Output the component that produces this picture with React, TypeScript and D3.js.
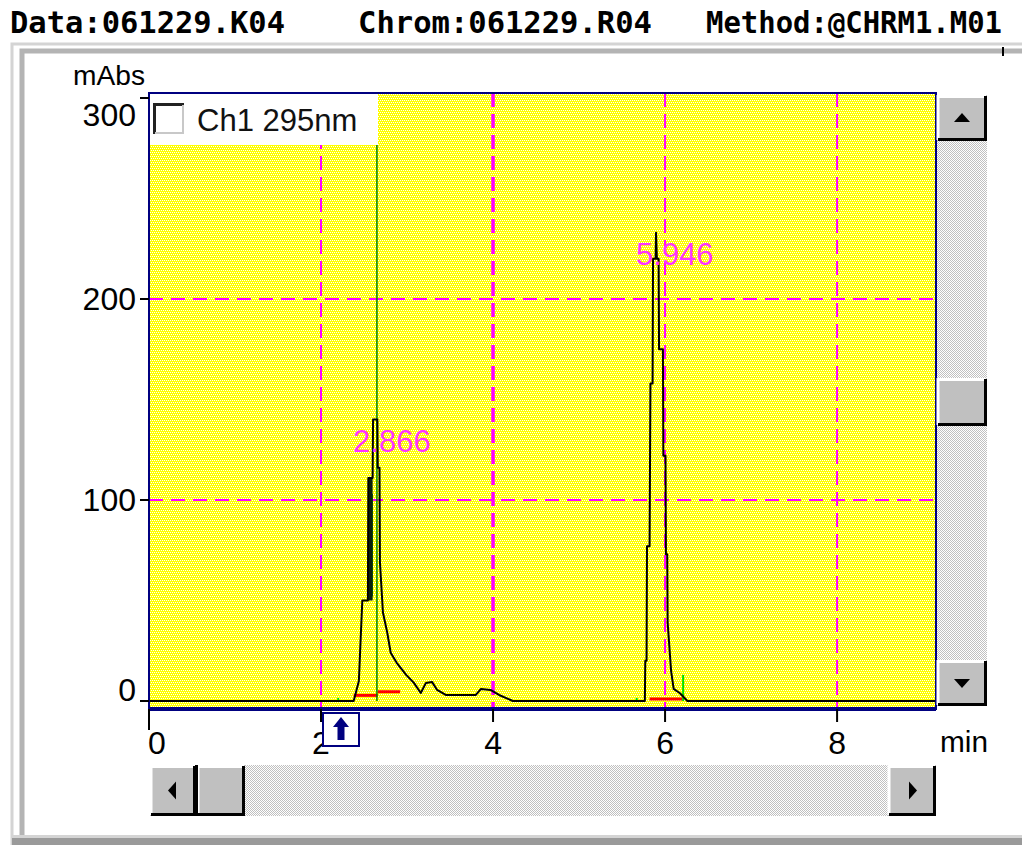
import React from 'react';
import * as d3 from 'd3';

// chromatogram trace, Ch1 295nm (min, mAbs) - repeated times are the detector's vertical steps
const traceTimes = [0, 2.38, 2.44, 2.48, 2.545, 2.55, 2.6, 2.605, 2.655, 2.66, 2.68, 2.685, 2.72, 2.77, 2.81, 2.88, 2.99, 3.08, 3.16, 3.22, 3.29, 3.35, 3.45, 3.8, 3.86, 3.97, 4.07, 4.23, 5.765, 5.77, 5.785, 5.79, 5.82, 5.83, 5.855, 5.86, 5.89, 5.895, 5.905, 5.925, 5.93, 5.975, 5.98, 6.005, 6.01, 6.025, 6.03, 6.07, 6.1, 6.17, 6.26, 9.15];
const traceValues = [0, 0, 10, 50, 50, 111, 111, 140, 140, 116, 116, 69, 44, 34, 24, 19, 13, 9, 4, 9, 9.5, 5.5, 3, 3, 6, 5.5, 3, 0, 0, 20, 20, 77, 77, 158, 158, 220, 220, 233, 220, 220, 175, 175, 122, 122, 73, 73, 39, 15, 6, 4, 0, 0];

// overdrawn dense band on the first peak
const bandTimes = [2.55, 2.6];
const bandLow = [50, 50];
const bandHigh = [111, 111];

// green marker lines [time, from, to]
const greenTimes = [2.65, 2.595, 6.21, 5.67, 2.2];
const greenFrom = [0, 52, 0, 0, 0];
const greenTo = [278, 103, 13, 1.5, 1.5];

// red integration baselines
const redStart = [2.38, 2.66, 5.82];
const redEnd = [2.66, 2.92, 6.2];
const redValue = [2.8, 4.6, 1];

const peakLabels = ['2.866', '5.946'];
const peakApexTimes = [2.605, 5.895];
const peakApexValues = [140, 233];

const xTicks = [0, 2, 4, 6, 8];
const yTicks = [0, 100, 200, 300];
const xGrid = [2, 4, 6, 8];
const yGrid = [100, 200];

const headerTexts = ['Data:061229.K04', 'Chrom:061229.R04', 'Method:@CHRM1.M01'];

const W = 1022;
const H = 845;
const plot = { left: 149, right: 936, top: 93, bottom: 709 };

const Button = ({ x, y, w, h, dir }: { x: number; y: number; w: number; h: number; dir: string }) => {
  const cx = x + w / 2;
  const cy = y + h / 2;
  let tri = '';
  if (dir === 'up') tri = `M${cx - 8},${cy + 4}L${cx + 8},${cy + 4}L${cx},${cy - 5}Z`;
  if (dir === 'down') tri = `M${cx - 8},${cy - 4}L${cx + 8},${cy - 4}L${cx},${cy + 5}Z`;
  if (dir === 'left') tri = `M${cx + 3},${cy - 9}L${cx + 3},${cy + 9}L${cx - 5},${cy}Z`;
  if (dir === 'right') tri = `M${cx - 3},${cy - 9}L${cx - 3},${cy + 9}L${cx + 5},${cy}Z`;
  return (
    <g>
      <rect x={x} y={y} width={w} height={h} fill="#c0c0c0" />
      <path d={`M${x + 1},${y + h - 1}V${y + 1.5}H${x + w - 1}`} stroke="#fff" strokeWidth={3} fill="none" />
      <path d={`M${x + 1},${y + h - 1.5}H${x + w - 1.5}V${y + 1}`} stroke="#000" strokeWidth={3} fill="none" />
      {tri && <path d={tri} fill="#000" />}
    </g>
  );
};

export default function App() {
  const x = d3.scaleLinear().domain([0, 9.15]).range([plot.left, plot.right]);
  const y = d3.scaleLinear().domain([0, 300]).range([701, 98]);

  const trace = traceTimes.map((t, i) => [t, traceValues[i]] as [number, number]);
  const line = d3
    .line<[number, number]>()
    .x((d) => x(d[0]))
    .y((d) => y(d[1]));

  const band = d3
    .area<number>()
    .x((i) => x(bandTimes[i]))
    .y0((i) => y(bandLow[i]))
    .y1((i) => y(bandHigh[i]));

  const font = "'Liberation Sans', Arial, sans-serif";

  return (
    <svg width={W} height={H} style={{ position: 'absolute', left: 0, top: 0, background: '#fff' }}>
      <defs>
        <pattern id="dither" width={4} height={4} patternUnits="userSpaceOnUse">
          <rect width={4} height={4} fill="#ffff00" />
          <rect x={0} y={0} width={1} height={1} fill="#fff" />
          <rect x={2} y={0} width={1} height={1} fill="#fff" />
          <rect x={1} y={2} width={1} height={1} fill="#fff" />
          <rect x={3} y={2} width={1} height={1} fill="#fff" />
        </pattern>
        <pattern id="track" width={2} height={2} patternUnits="userSpaceOnUse">
          <rect width={2} height={2} fill="#fff" />
          <rect x={0} y={0} width={1} height={1} fill="#c0c0c0" />
          <rect x={1} y={1} width={1} height={1} fill="#c0c0c0" />
        </pattern>
        <clipPath id="plotClip">
          <rect x={plot.left} y={plot.top} width={plot.right - plot.left} height={plot.bottom - plot.top} />
        </clipPath>
      </defs>

      {/* header */}
      {headerTexts.map((t, i) => (
        <text
          key={t}
          x={[10, 358, 706][i]}
          y={33}
          fontFamily="'DejaVu Sans Mono', monospace"
          fontWeight="bold"
          fontSize={30}
          textLength={[275, 294, 296][i]}
          lengthAdjust="spacingAndGlyphs"
        >
          {t}
        </text>
      ))}

      {/* window frame */}
      <path d={`M12,845V44H1022`} stroke="#d4d4d4" strokeWidth={3} fill="none" />
      <path d={`M22,845V51H1022`} stroke="#b4b4b4" strokeWidth={5} fill="none" />
      <rect x={12} y={838} width={1010} height={7} fill="#9a9a9a" />
      <rect x={12} y={835} width={1010} height={3} fill="#d4d4d4" />
      <line x1={1003} x2={1003} y1={47} y2={56} stroke="#000" strokeWidth={2} />

      {/* plot area */}
      <rect x={plot.left} y={plot.top} width={plot.right - plot.left} height={plot.bottom - plot.top} fill="url(#dither)" shapeRendering="crispEdges" />

      <g clipPath="url(#plotClip)">
        {xGrid.map((g) => (
          <line key={g} x1={x(g)} x2={x(g)} y1={plot.top} y2={plot.bottom} stroke="#ff00ff" strokeWidth={g === 4 ? 3.5 : 2} strokeDasharray="14,7" />
        ))}
        {yGrid.map((g) => (
          <line key={g} x1={plot.left} x2={plot.right} y1={y(g)} y2={y(g)} stroke="#ff00ff" strokeWidth={2} strokeDasharray="14,8" />
        ))}

        {redStart.map((s, i) => (
          <line key={i} x1={x(s)} x2={x(redEnd[i])} y1={y(redValue[i])} y2={y(redValue[i])} stroke="#ff0000" strokeWidth={3} />
        ))}
        {greenTimes.map((t, i) => (
          <line key={i} x1={x(t)} x2={x(t)} y1={y(greenFrom[i])} y2={y(greenTo[i])} stroke={i < 2 ? '#008000' : '#00e000'} strokeWidth={i < 2 ? 1.5 : 2} />
        ))}

        <path d={band(d3.range(bandTimes.length)) || ''} fill="#0a200a" />
        <path d={line(trace) || ''} fill="none" stroke="#000" strokeWidth={2} strokeLinejoin="round" />

        {peakLabels.map((p, i) => (
          <text key={p} x={x(peakApexTimes[i]) - 20} y={y(peakApexValues[i]) + 32} fill="#ff33ff" fontFamily={font} fontSize={31}>
            {p}
          </text>
        ))}
      </g>

      {/* legend */}
      <rect x={plot.left + 1} y={plot.top + 1} width={228} height={51} fill="#fff" />
      <rect x={153} y={103} width={31} height={31} fill="#fff" />
      <path d="M154.5,134V104.5H184" stroke="#222" strokeWidth={3} fill="none" />
      <path d="M155,133H183V105" stroke="#c8c8c8" strokeWidth={2} fill="none" />
      <text x={197} y={131} fontFamily={font} fontSize={31} fill="#111">
        Ch1 295nm
      </text>

      {/* plot border */}
      <rect x={plot.left} y={plot.top} width={plot.right - plot.left} height={plot.bottom - plot.top} fill="none" stroke="#000080" strokeWidth={2} />
      <line x1={plot.left} x2={plot.right} y1={plot.bottom} y2={plot.bottom} stroke="#000080" strokeWidth={4} />

      {/* y axis */}
      {yTicks.map((t) => (
        <g key={t}>
          <line x1={140} x2={plot.left} y1={y(t)} y2={y(t)} stroke="#000" strokeWidth={2} />
          <text
            x={136}
            y={Math.min(Math.max(y(t), 115), 690) + 11}
            textAnchor="end"
            fontFamily={font}
            fontSize={32}
          >
            {t}
          </text>
        </g>
      ))}
      <text x={73} y={85} fontFamily={font} fontSize={28} textLength={72} lengthAdjust="spacingAndGlyphs">
        mAbs
      </text>

      {/* x axis */}
      {xTicks.map((t) => (
        <g key={t}>
          <line x1={x(t)} x2={x(t)} y1={plot.bottom} y2={t === 0 ? 730 : 722} stroke="#000" strokeWidth={2} />
          <text x={Math.max(x(t), 157)} y={754} textAnchor="middle" fontFamily={font} fontSize={32}>
            {t}
          </text>
        </g>
      ))}
      <text x={940} y={752} fontFamily={font} fontSize={30} textLength={48} lengthAdjust="spacingAndGlyphs">
        min
      </text>

      {/* cursor marker */}
      <rect x={323} y={713} width={36} height={33} fill="#fff" stroke="#000080" strokeWidth={2} />
      <path d="M341,717L349,727H344.5V740H337.5V727H333Z" fill="#000080" />

      {/* vertical scrollbar */}
      <rect x={937} y={95} width={50} height={611} fill="url(#track)" shapeRendering="crispEdges" />
      <Button x={937} y={95} w={50} h={46} dir="up" />
      <Button x={937} y={378} w={50} h={48} dir="" />
      <Button x={937} y={660} w={50} h={46} dir="down" />

      {/* horizontal scrollbar */}
      <rect x={150} y={765} width={786} height={51} fill="url(#track)" shapeRendering="crispEdges" />
      <Button x={150} y={765} w={46} h={51} dir="left" />
      <Button x={197} y={765} w={48} h={51} dir="" />
      <line x1={196.5} x2={196.5} y1={765} y2={816} stroke="#000" strokeWidth={3} />
      <Button x={888} y={765} w={48} h={51} dir="right" />
    </svg>
  );
}
